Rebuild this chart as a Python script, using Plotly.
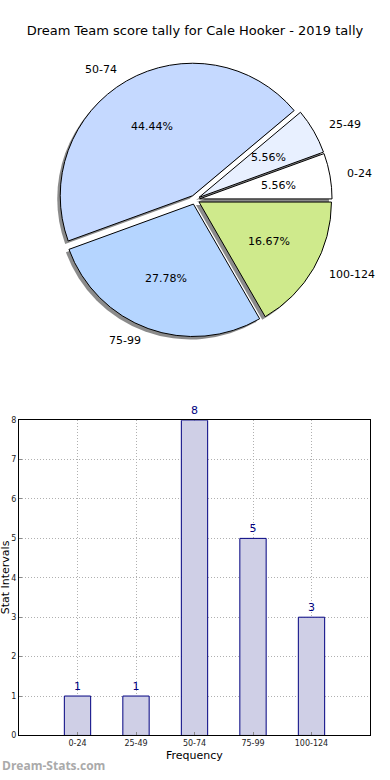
import math
import plotly.graph_objects as go

categories = ["0-24", "25-49", "50-74", "75-99", "100-124"]
counts = [1, 1, 8, 5, 3]
pie_colors = ["#ffffff", "#e8f0ff", "#c5d9ff", "#b5d5ff", "#cfea8c"]
title_text = "Dream Team score tally for Cale Hooker - 2019 tally"

W, H = 390, 780
def px_x(p): return p / W
def px_y(p): return 1 - p / H

total = sum(counts)
# first slice starts at 3 o'clock going counterclockwise (plotly places first slice clockwise of rotation)
start_rot = 90 - 360 * counts[0] / total

explode = 0.035
pull = [explode] * len(categories)
cx, cy, r = 195, 198, 134           # pie centre / radius in pixels
half = r * (1 + explode)            # plotly: r = half / (1 + max pull)
pie_dom_x = [px_x(cx - half), px_x(cx + half)]
pie_dom_y = [px_y(cy + half), px_y(cy - half)]
sh_dx, sh_dy = -3, 3

fig = go.Figure()
# shadow
fig.add_trace(go.Pie(
    labels=categories, values=counts, sort=False, direction="counterclockwise", rotation=start_rot,
    pull=pull, marker=dict(colors=["rgba(110,110,110,0.8)"] * 5, line=dict(width=0)),
    textinfo="none", hoverinfo="skip", showlegend=False,
    domain=dict(x=[pie_dom_x[0] + px_x(sh_dx), pie_dom_x[1] + px_x(sh_dx)],
                y=[pie_dom_y[0] - sh_dy / H, pie_dom_y[1] - sh_dy / H]),
))
# main pie
fig.add_trace(go.Pie(
    labels=categories, values=counts, sort=False, direction="counterclockwise", rotation=start_rot,
    pull=pull, marker=dict(colors=pie_colors, line=dict(color="black", width=1)),
    textinfo="none", hoverinfo="skip", showlegend=False,
    domain=dict(x=pie_dom_x, y=pie_dom_y),
))

# pie texts (matplotlib style: labels at 1.1 r, percentages at 0.6 r)
annotations = []
cum = 0
for cat, v in zip(categories, counts):
    mid = math.radians(360 * (cum + v / 2) / total)
    cum += v
    c, s = math.cos(mid), math.sin(mid)
    pr = (explode + 0.6) * r
    annotations.append(dict(text=f"{100 * v / total:.2f}%", xref="paper", yref="paper",
                            x=px_x(cx + pr * c), y=px_y(cy - pr * s), showarrow=False,
                            xanchor="center", yanchor="middle",
                            font=dict(size=11, color="black")))
    lr = (explode + 1.1) * r
    annotations.append(dict(text=cat, xref="paper", yref="paper",
                            x=px_x(cx + lr * c), y=px_y(cy - lr * s), showarrow=False,
                            xanchor="left" if c > 0 else "right", yanchor="middle",
                            font=dict(size=11, color="black")))

# bar chart
fig.add_trace(go.Bar(
    x=categories, y=counts, width=0.45,
    marker=dict(color="#cfcfe6", line=dict(color="#000080", width=1)),
    text=[str(c) for c in counts], textposition="outside", cliponaxis=False,
    textfont=dict(family="DejaVu Sans", size=11, color="#000080"),
    showlegend=False, hoverinfo="skip",
))

annotations += [
    dict(text="Stat Intervals", xref="paper", yref="paper", x=px_x(5), y=px_y(580),
         textangle=-90, showarrow=False, font=dict(size=11, color="black"),
         xanchor="center", yanchor="middle"),
    dict(text="Frequency", xref="paper", yref="paper", x=px_x(194), y=px_y(760),
         showarrow=False, font=dict(size=11, color="black"),
         xanchor="center", yanchor="middle"),
    dict(text="<b>Dream-Stats.com</b>", xref="paper", yref="paper", x=px_x(0), y=px_y(770),
         showarrow=False, font=dict(size=12, color="#aaaaaa", family="Open Sans"),
         xanchor="left", yanchor="middle"),
]

fig.update_layout(
    width=W, height=H, margin=dict(l=0, r=0, t=0, b=0),
    paper_bgcolor="white", plot_bgcolor="white",
    font=dict(family="DejaVu Sans", color="black"),
    title=dict(text=title_text, x=0.5, xanchor="center", y=px_y(30), yanchor="middle",
               font=dict(size=13, color="black")),
    xaxis=dict(domain=[px_x(19), px_x(370)], range=[-1, 5], type="category",
               showline=True, linecolor="black", linewidth=1, mirror=True,
               showgrid=True, gridcolor="#b0b0b0", griddash="1px,2px",
               ticks="inside", ticklen=3, tickcolor="#888",
               tickfont=dict(size=8, color="#222"), fixedrange=True),
    yaxis=dict(domain=[px_y(740), px_y(421)], range=[0, 8], dtick=1,
               showline=True, linecolor="black", linewidth=1, mirror=True,
               showgrid=True, gridcolor="#b0b0b0", griddash="1px,2px",
               ticks="inside", ticklen=3, tickcolor="#888", zeroline=False,
               tickfont=dict(size=8, color="#222"), fixedrange=True),
    annotations=annotations,
)

fig.write_html("out.html", config={"displayModeBar": False},
               post_script="document.body.style.margin='0px';document.body.style.overflow='hidden';")
